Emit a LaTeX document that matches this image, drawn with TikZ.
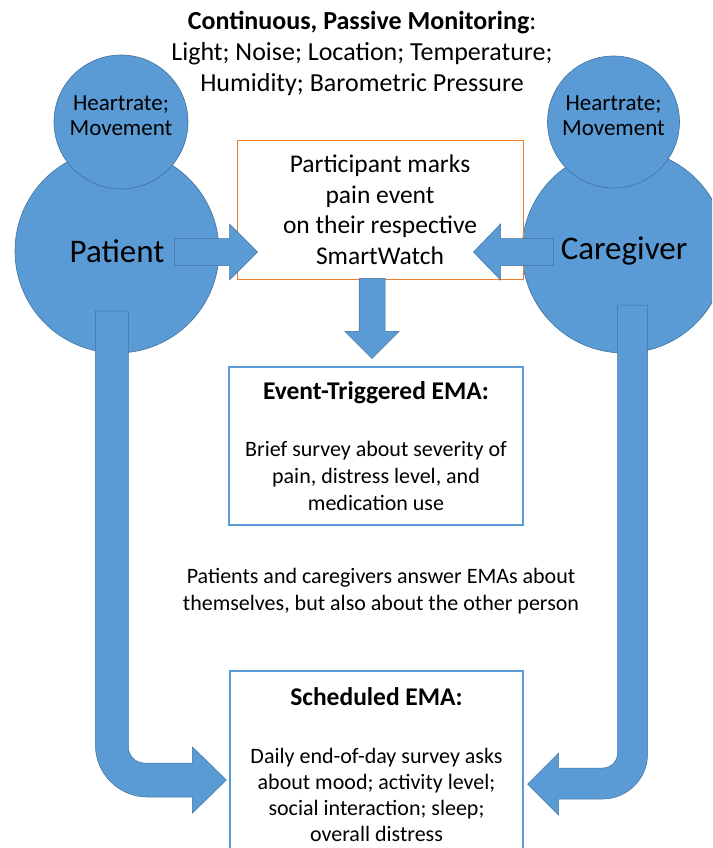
\documentclass[tikz,border=0pt]{standalone}
\usepackage{fontspec}
\setmainfont{Carlito}
\usetikzlibrary{calc}
\definecolor{shapefill}{HTML}{5B9BD5}
\definecolor{shapeline}{HTML}{41719C}
\definecolor{markline}{HTML}{ED7D31}
\definecolor{emaline}{HTML}{5B9BD5}

\tikzset{
  person/.style={circle, fill=shapefill, draw=shapeline, line width=0.6pt, minimum size=204pt, inner sep=0pt,
    font=\fontsize{33}{36}\selectfont},
  sensor/.style={circle, fill=shapefill, draw=shapeline, line width=0.6pt, minimum size=134pt, inner sep=0pt},
  sensortext/.style={align=center, inner sep=0pt, font=\fontsize{23}{25}\selectfont},
  markbox/.style={draw=markline, line width=1pt, align=center, inner sep=0pt,
    font=\fontsize{25.5}{30.5}\selectfont},
  emabox/.style={draw=emaline, line width=1.2pt, align=center, inner sep=0pt,
    font=\fontsize{22}{27}\selectfont},
  emahead/.style={font=\fontsize{25.5}{27}\selectfont\bfseries},
  plain/.style={align=center, inner sep=0pt},
  blockarrow/.style={fill=shapefill, draw=shapeline, line width=0.5pt}
}

\begin{document}
\begin{tikzpicture}[x=1pt, y=-1pt]
  \useasboundingbox (0,0) rectangle (712,848);
  \clip (0,0) rectangle (712,848);

  % monitoring text at the top
  \node[plain, font=\fontsize{26}{31}\selectfont] (monitor) at (362,53)
    {\textbf{Continuous, Passive Monitoring}:\\Light; Noise; Location; Temperature;\\Humidity; Barometric Pressure};

  % the two people and their watches
  \node[person] (patient) at (117,251) {Patient};
  \node[person] (caregiver) at (624,251) {Caregiver};
  \node[sensor] (patientwatch) at (121,122) {};
  \node[sensor, minimum size=132pt] (caregiverwatch) at (613.5,122) {};
  \node[sensortext] (patientwatchtext) at ($(patientwatch)+(0,-6.5)$) {Heartrate;\\Movement};
  \node[sensortext] (caregiverwatchtext) at ($(caregiverwatch)+(0,-6.5)$) {Heartrate;\\Movement};

  % boxes
  \node[markbox, minimum width=286pt, minimum height=139pt] (mark) at (380,209.5)
    {Participant marks\\pain event\\on their respective\\SmartWatch};
  \node[emabox, minimum width=294pt, minimum height=158pt] (event) at (376,446)
    {{\fontsize{25.5}{27}\selectfont\bfseries Event-Triggered EMA:}\\[30pt]Brief survey about severity of\\pain, distress level, and\\medication use};
  \node[plain, font=\fontsize{22}{27}\selectfont] (answer) at (381,591.5)
    {Patients and caregivers answer EMAs about\\themselves, but also about the other person};
  \node[emabox, minimum width=293pt, minimum height=188pt, font=\fontsize{22}{26}\selectfont] (sched) at (376.5,765)
    {{\fontsize{25.5}{26}\selectfont\bfseries Scheduled EMA:}\\[32pt]Daily end-of-day survey asks\\about mood; activity level;\\social interaction; sleep;\\overall distress};

  % arrow tips
  \coordinate (ptip) at ($(mark.west)+(21,42.5)$);
  \coordinate (ctip) at ($(mark.east)+(-50,42.5)$);
  \coordinate (dtip) at ($(event.north)+(-4,-8)$);
  \coordinate (lbtip) at ($(sched.west)+(-3,15)$);
  \coordinate (rbtip) at ($(sched.east)+(4,19)$);

  % block arrows
  \filldraw[blockarrow] (ptip) -- ++(-28,-28) -- ++(0,14.5) -- ++(-55,0) -- ++(0,27)
    -- ++(55,0) -- ++(0,14.5) -- cycle;
  \filldraw[blockarrow] (ctip) -- ++(27,-28) -- ++(0,14.5) -- ++(53,0) -- ++(0,27)
    -- ++(-53,0) -- ++(0,14.5) -- cycle;
  \filldraw[blockarrow] (dtip) -- ++(-27,-27) -- ++(14,0) -- ++(0,-53) -- ++(26,0)
    -- ++(0,53) -- ++(14,0) -- cycle;

  % bent arrows down to the scheduled EMA
  \filldraw[blockarrow] (lbtip) -- ++(-34,-33) -- ++(0,16) -- ++(-48,0)
    .. controls +(-8.8,0) and +(0,8.8) .. ++(-16,-16) -- ++(0,-436) -- ++(-33,0) -- ++(0,434)
    .. controls +(0,28.7) and +(-28.7,0) .. ++(52,52) -- ++(45,0) -- ++(0,16) -- cycle;
  \filldraw[blockarrow] (rbtip) -- ++(31,-31) -- ++(0,15) -- ++(44,0)
    .. controls +(8.3,0) and +(0,8.3) .. ++(15,-15) -- ++(0,-448) -- ++(30,0) -- ++(0,449)
    .. controls +(0,24.8) and +(24.8,0) .. ++(-45,45) -- ++(-44,0) -- ++(0,16) -- cycle;
\end{tikzpicture}
\end{document}
